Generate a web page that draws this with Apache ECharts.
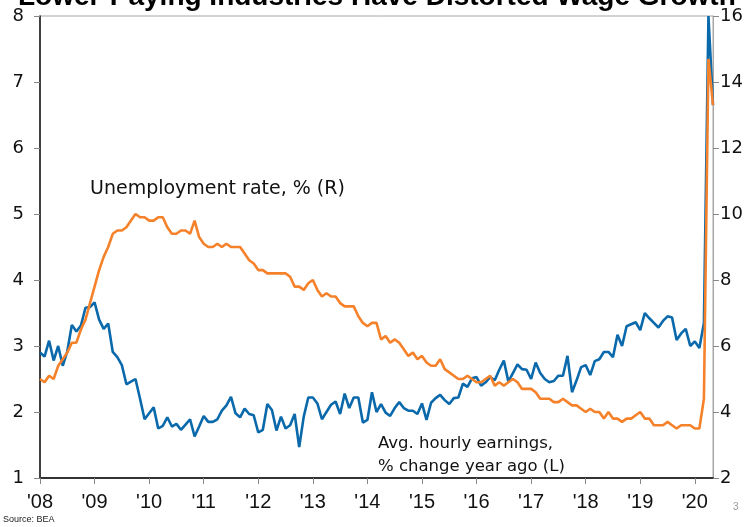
<!DOCTYPE html>
<html><head><meta charset="utf-8">
<script src="https://cdn.jsdelivr.net/npm/echarts@6/dist/echarts.min.js"></script>
<style>html,body{margin:0;padding:0;background:#fff}#c{width:751px;height:527px}</style>
</head><body><div id="c"></div>
<script>
// ---- data ----
const years = [2008,2009,2010,2011,2012,2013,2014,2015,2016,2017,2018,2019,2020];
const yearLabels = ["'08","'09","'10","'11","'12","'13","'14","'15","'16","'17","'18","'19","'20"];
const monthsInLastYear = 5; // data through May 2020
const months = [];
years.forEach(function (y) {
  const n = (y === 2020) ? monthsInLastYear : 12;
  for (let m = 1; m <= n; m++) months.push(y + '-' + (m < 10 ? '0' + m : m));
});

// Avg. hourly earnings, % change year ago (left axis)
const hourlyEarnings = [
  2.90,2.84,3.08,2.78,3.00,2.70,2.92,3.32,3.22,3.31,3.58,3.59,
  3.66,3.40,3.26,3.34,2.91,2.83,2.71,2.42,2.46,2.50,2.20,1.89,
  1.98,2.07,1.75,1.79,1.92,1.78,1.82,1.73,1.81,1.89,1.63,1.78,
  1.94,1.85,1.85,1.89,2.02,2.10,2.23,1.98,1.92,2.05,1.97,1.95,
  1.69,1.73,2.12,2.03,1.72,1.93,1.75,1.80,1.97,1.47,1.93,2.22,
  2.22,2.13,1.89,2.00,2.11,2.16,1.97,2.28,2.06,2.22,2.22,1.84,
  1.88,2.30,2.00,2.12,1.99,1.94,2.06,2.15,2.06,2.02,2.02,1.97,
  2.13,1.88,2.14,2.21,2.26,2.18,2.12,2.21,2.22,2.43,2.38,2.51,
  2.53,2.40,2.45,2.53,2.48,2.64,2.78,2.46,2.59,2.72,2.65,2.64,
  2.50,2.75,2.59,2.50,2.45,2.47,2.55,2.55,2.85,2.30,2.48,2.68,
  2.71,2.56,2.77,2.80,2.91,2.91,2.83,3.17,3.00,3.30,3.33,3.36,
  3.24,3.50,3.42,3.35,3.28,3.38,3.45,3.43,3.09,3.19,3.26,3.00,
  3.07,2.97,3.35,8.00,6.65
];

// Unemployment rate, % (right axis)
const unemployment = [
  5.0,4.9,5.1,5.0,5.4,5.6,5.8,6.1,6.1,6.5,6.8,7.3,
  7.8,8.3,8.7,9.0,9.4,9.5,9.5,9.6,9.8,10.0,9.9,9.9,
  9.8,9.8,9.9,9.9,9.6,9.4,9.4,9.5,9.5,9.4,9.8,9.3,
  9.1,9.0,9.0,9.1,9.0,9.1,9.0,9.0,9.0,8.8,8.6,8.5,
  8.3,8.3,8.2,8.2,8.2,8.2,8.2,8.1,7.8,7.8,7.7,7.9,
  8.0,7.7,7.5,7.6,7.5,7.5,7.3,7.2,7.2,7.2,6.9,6.7,
  6.6,6.7,6.7,6.2,6.3,6.1,6.2,6.1,5.9,5.7,5.8,5.6,
  5.7,5.5,5.4,5.4,5.6,5.3,5.2,5.1,5.0,5.0,5.1,5.0,
  4.9,4.9,5.0,5.1,4.8,4.9,4.8,4.9,5.0,4.9,4.7,4.7,
  4.7,4.6,4.4,4.4,4.4,4.3,4.3,4.4,4.3,4.2,4.2,4.1,
  4.0,4.1,4.0,4.0,3.8,4.0,3.8,3.8,3.7,3.8,3.8,3.9,
  4.0,3.8,3.8,3.6,3.6,3.6,3.7,3.6,3.5,3.6,3.6,3.6,
  3.5,3.5,4.4,14.7,13.3
];

const titleText = 'Lower-Paying Industries Have Distorted Wage Growth';
const labelUnemp = 'Unemployment rate, % (R)';
const labelEarn1 = 'Avg. hourly earnings,';
const labelEarn2 = '% change year ago (L)';
const sourceText = 'Source: BEA';

// ---- chart ----
const chart = echarts.init(document.getElementById('c'), null, {renderer: 'canvas'});
const isJan = function (i, v) { return v.slice(5) === '01'; };
const numFont = "'DejaVu Sans', Verdana, sans-serif";

chart.setOption({
  animation: false,
  backgroundColor: '#fff',
  grid: {left: 40, right: 38, top: 16, bottom: 49, show: true, borderColor: '#a6a6a6', borderWidth: 1},
  xAxis: {
    type: 'category', data: months, boundaryGap: false,
    axisLine: {lineStyle: {color: '#333', width: 2}},
    axisTick: {interval: isJan, length: 6, inside: false, lineStyle: {color: '#888'}},
    axisLabel: {
      interval: isJan, margin: 14, color: '#111', fontSize: 20,
      fontFamily: "'Liberation Sans Narrow', 'Arial Narrow', 'Liberation Sans', sans-serif",
      formatter: function (v) { return yearLabels[years.indexOf(+v.slice(0, 4))]; }
    },
    splitLine: {show: false}
  },
  yAxis: [{
    type: 'value', min: 1, max: 8, interval: 1, position: 'left',
    axisLine: {show: true, lineStyle: {color: '#111', width: 1.5}},
    axisTick: {show: true, length: 6, lineStyle: {color: '#888'}},
    axisLabel: {margin: 16, color: '#111', fontSize: 18, fontFamily: numFont},
    splitLine: {show: false}
  }, {
    type: 'value', min: 2, max: 16, interval: 2, position: 'right',
    axisLine: {show: true, lineStyle: {color: '#a6a6a6', width: 1}},
    axisTick: {show: true, length: 6, lineStyle: {color: '#888'}},
    axisLabel: {margin: 7, color: '#111', fontSize: 18, fontFamily: numFont},
    splitLine: {show: false}
  }],
  series: [{
    name: 'Avg. hourly earnings', type: 'line', yAxisIndex: 0, data: hourlyEarnings,
    showSymbol: false, symbol: 'none', lineStyle: {color: '#0a69ab', width: 2.6}, clip: true
  }, {
    name: 'Unemployment rate', type: 'line', yAxisIndex: 1, data: unemployment,
    showSymbol: false, symbol: 'none', lineStyle: {color: '#f5822b', width: 2.6}, clip: true
  }],
  graphic: [
    {type: 'text', x: 18, y: -3, style: {text: titleText, font: "bold 28px 'Liberation Sans', Arial, sans-serif", fill: '#000', textVerticalAlign: 'middle'}},
    {type: 'text', x: 90, y: 189, style: {text: labelUnemp, font: "19px 'DejaVu Sans', Verdana, sans-serif", fill: '#111', textVerticalAlign: 'middle'}},
    {type: 'text', x: 378, y: 444, style: {text: labelEarn1, font: "16.5px 'DejaVu Sans', Verdana, sans-serif", fill: '#111', textVerticalAlign: 'middle'}},
    {type: 'text', x: 378, y: 467, style: {text: labelEarn2, font: "16.5px 'DejaVu Sans', Verdana, sans-serif", fill: '#111', textVerticalAlign: 'middle'}},
    {type: 'text', x: 3, y: 520, style: {text: sourceText, font: "9px 'Liberation Sans Narrow', 'Liberation Sans', sans-serif", fill: '#222', textVerticalAlign: 'middle'}},
    {type: 'text', x: 733, y: 507, style: {text: '3', font: "10px 'Liberation Sans', sans-serif", fill: '#999', textVerticalAlign: 'middle'}}
  ]
});
</script>
</body></html>
